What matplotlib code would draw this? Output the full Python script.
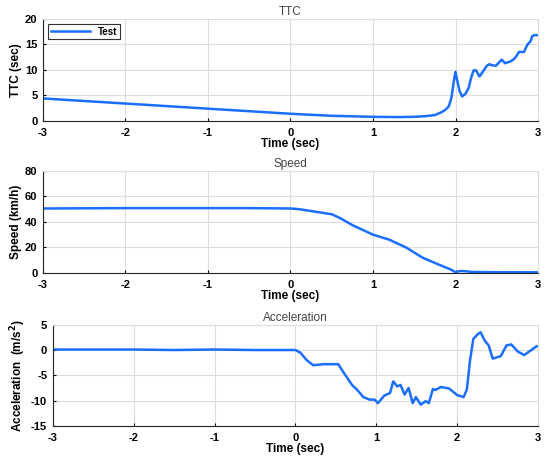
import matplotlib.pyplot as plt

plt.rcParams['font.family'] = ['Liberation Sans', 'DejaVu Sans']
plt.rcParams['axes.unicode_minus'] = False

# TTC (sec)
ttc_t = [-3.0, -2.5, -2.0, -1.5, -1.0, -0.5, 0.0, 0.5, 1.0, 1.3, 1.5, 1.65, 1.75, 1.83, 1.88,
         1.92, 1.95, 1.97, 1.99, 2.0, 2.02, 2.05, 2.08, 2.12, 2.16, 2.19, 2.22, 2.25, 2.29,
         2.33, 2.38, 2.41, 2.44, 2.49, 2.53, 2.56, 2.60, 2.66, 2.70, 2.73, 2.77, 2.83,
         2.87, 2.91, 2.93, 2.96, 3.0]
ttc_v = [4.4, 3.9, 3.4, 2.9, 2.4, 1.9, 1.4, 1.0, 0.8, 0.75, 0.8, 0.95, 1.15, 1.7, 2.2,
         2.9, 4.5, 6.7, 8.8, 9.6, 8.0, 5.8, 4.8, 5.3, 6.5, 8.5, 9.9, 9.9, 8.7,
         9.6, 10.8, 11.1, 10.9, 10.8, 11.5, 12.0, 11.3, 11.6, 12.0, 12.5, 13.5, 13.5,
         14.9, 15.6, 16.6, 16.8, 16.8]

# Speed (km/h)
spd_t = [-3.0, -2.0, -1.0, -0.5, 0.0, 0.1, 0.25, 0.5, 0.6, 0.75, 0.9, 1.0, 1.2, 1.4,
         1.6, 1.8, 1.95, 2.0, 2.05, 2.1, 2.2, 2.5, 3.0]
spd_v = [50.5, 50.8, 50.8, 50.8, 50.5, 50.0, 48.5, 46.0, 43.0, 37.5, 33.0, 30.0, 26.0, 20.0,
         12.0, 6.5, 2.5, 0.5, 1.5, 1.5, 0.8, 0.6, 0.5]

# Acceleration (m/s^2)
acc_t = [-3.0, -2.5, -2.0, -1.5, -1.0, -0.5, 0.0, 0.06, 0.14, 0.22, 0.35, 0.53, 0.59,
         0.70, 0.76, 0.84, 0.92, 0.98, 1.02, 1.10, 1.17, 1.21, 1.26, 1.30, 1.35, 1.40,
         1.45, 1.49, 1.55, 1.61, 1.65, 1.70, 1.73, 1.80, 1.90, 2.00, 2.08, 2.12, 2.16,
         2.20, 2.26, 2.29, 2.34, 2.39, 2.44, 2.48, 2.54, 2.61, 2.67, 2.75, 2.83, 2.89, 2.98, 3.0]
acc_v = [0.1, 0.1, 0.1, 0.0, 0.1, 0.0, 0.0, -0.5, -2.0, -3.0, -2.8, -2.8, -4.3,
         -6.9, -7.8, -9.3, -9.8, -9.8, -10.5, -9.0, -8.5, -6.2, -7.2, -6.9, -8.8, -7.5,
         -10.5, -9.3, -10.8, -10.1, -10.5, -7.7, -7.9, -7.3, -7.6, -8.9, -9.3, -7.8, -2.0,
         2.2, 3.2, 3.5, 1.9, 0.9, -1.7, -1.5, -1.2, 0.9, 1.1, -0.3, -1.0, -0.3, 0.7, 0.8]

line_color = '#1a6fff'

fig = plt.figure(figsize=(5.44, 4.58), dpi=100)
ax1 = fig.add_axes([0.079, 0.736, 0.910, 0.223])
ax2 = fig.add_axes([0.079, 0.404, 0.910, 0.223])
ax3 = fig.add_axes([0.097, 0.070, 0.892, 0.221])


def style(ax, title, ylabel, ylim, yticks):
    ax.set_xlim(-3, 3)
    ax.set_ylim(*ylim)
    ax.set_xticks([-3, -2, -1, 0, 1, 2, 3])
    ax.set_yticks(yticks)
    ax.grid(True, color='#dddddd', linewidth=0.8)
    ax.set_axisbelow(True)
    for s in ['top', 'right']:
        ax.spines[s].set_color('#dddddd')
    for s in ['left', 'bottom']:
        ax.spines[s].set_color('#222222')
        ax.spines[s].set_linewidth(0.8)
    ax.tick_params(labelsize=8, length=2, direction='in')
    ax.tick_params(axis='x', pad=5)
    ax.tick_params(axis='y', pad=4)
    for lab in ax.get_xticklabels() + ax.get_yticklabels():
        lab.set_fontweight('bold')
    ax.set_title(title, fontsize=8.5, color='#444444', pad=3)
    ax.set_xlabel('Time (sec)', fontsize=8.5, fontweight='bold', labelpad=0)
    ax.set_ylabel(ylabel, fontsize=8.5, fontweight='bold', labelpad=2)


ax1.plot(ttc_t, ttc_v, color=line_color, linewidth=1.8, label='Test')
style(ax1, 'TTC', 'TTC (sec)', (0, 20), [0, 5, 10, 15, 20])
leg = ax1.legend(loc='upper left', prop={'weight': 'bold', 'size': 7},
                 fancybox=False, edgecolor='#333333', handlelength=4,
                 borderpad=0.3, framealpha=1)
leg.get_frame().set_linewidth(0.8)

ax2.plot(spd_t, spd_v, color=line_color, linewidth=1.8)
style(ax2, 'Speed', 'Speed (km/h)', (0, 80), [0, 20, 40, 60, 80])

ax3.plot(acc_t, acc_v, color=line_color, linewidth=1.8)
style(ax3, 'Acceleration', 'Acceleration  (m/s$^\\mathbf{2}$)', (-15, 5), [-15, -10, -5, 0, 5])

fig.savefig('out.png', dpi=100)
